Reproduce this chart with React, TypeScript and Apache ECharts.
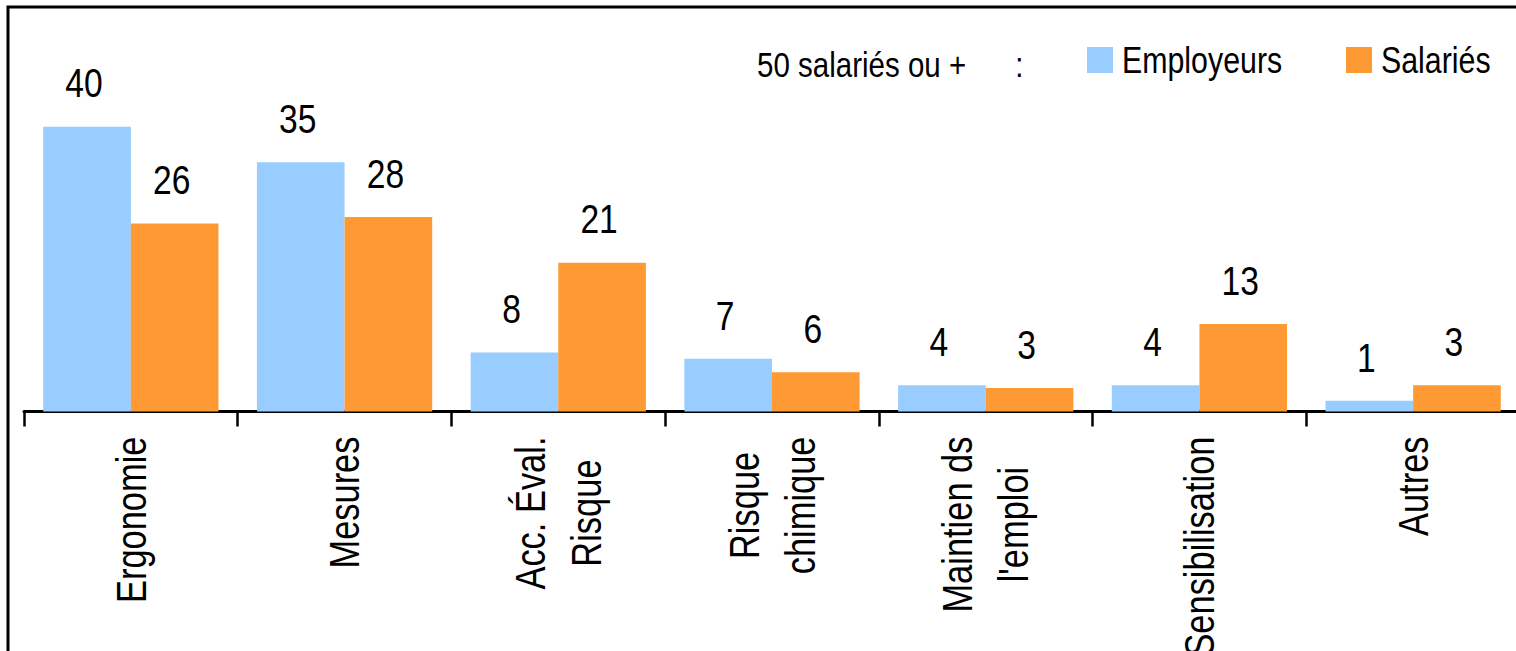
import React, { useEffect, useRef } from "react";
import * as echarts from "echarts";

const categories = [
  "Ergonomie",
  "Mesures",
  "Acc. Éval.\nRisque",
  "Risque\nchimique",
  "Maintien ds\nl'emploi",
  "Sensibilisation",
  "Autres",
];
const seriesNames = ["Employeurs", "Salariés"];
const employeursValues = [40.0, 35.0, 8.3, 7.4, 3.7, 3.7, 1.5];
const salariesValues = [26.4, 27.3, 20.9, 5.5, 3.3, 12.3, 3.7];
const employeursLabels = ["40", "35", "8", "7", "4", "4", "1"];
const salariesLabels = ["26", "28", "21", "6", "3", "13", "3"];
const legendPrefix = "50 salariés ou +      :";

const FONT = '"Liberation Sans", Arial, sans-serif';
const NARROW = 0.82; // horizontal condensation to imitate a narrow face

export default function App() {
  const ref = useRef<HTMLDivElement>(null);
  useEffect(() => {
    if (!ref.current) return;
    const chart = echarts.init(ref.current, undefined, { renderer: "svg" });
    const labelStyle = (labels: string[]) => ({
      show: true,
      position: "top",
      distance: 23,
      offset: [-3, 0],
      color: "#000",
      fontSize: 41,
      fontFamily: FONT,
      formatter: (p: any) => labels[p.dataIndex],
    });
    const legendItem = (name: string, left: number) => ({
      data: [name],
      left,
      top: 36.5,
      itemWidth: 26,
      itemHeight: 26,
      icon: "rect",
      textStyle: { fontSize: 37, fontFamily: FONT, color: "#000", padding: [0, 0, 0, 4] },
    });
    chart.setOption({
      animation: false,
      backgroundColor: "#fff",
      grid: {
        left: 24,
        right: 20,
        top: 55.5,
        bottom: 239.5,
        containLabel: false,
        outerBoundsMode: "none",
      },
      legend: [legendItem(seriesNames[0], 1082), legendItem(seriesNames[1], 1341)],
      xAxis: {
        type: "category",
        data: categories,
        boundaryGap: true,
        axisLine: { show: true, lineStyle: { color: "#000", width: 3 } },
        axisTick: { show: true, length: 15, lineStyle: { color: "#000", width: 2.5 } },
        axisLabel: {
          interval: 0,
          rotate: 90,
          margin: 25,
          hideOverlap: false,
          formatter: (v: string) => v.split("\n").map((l) => `{c|${l}}`).join("\n"),
          rich: {
            c: { align: "center", fontSize: 42, lineHeight: 56, fontFamily: FONT, color: "#000" },
          },
        },
      },
      yAxis: { type: "value", min: 0, max: 50, show: false, splitLine: { show: false } },
      graphic: [
        {
          type: "rect",
          shape: { x: 8, y: 7, width: 1700, height: 900 },
          style: { fill: "none", stroke: "#000", lineWidth: 3 },
          silent: true,
        },
        {
          type: "text",
          x: 757,
          y: 64,
          style: {
            text: legendPrefix,
            fontSize: 36,
            fontFamily: FONT,
            fill: "#000",
            verticalAlign: "middle",
            align: "left",
          },
        },
      ],
      series: [
        {
          name: seriesNames[0],
          type: "bar",
          data: employeursValues,
          barGap: "0%",
          barCategoryGap: "18%",
          itemStyle: { color: "#99CCFF" },
          label: labelStyle(employeursLabels),
        },
        {
          name: seriesNames[1],
          type: "bar",
          data: salariesValues,
          barGap: "0%",
          barCategoryGap: "18%",
          itemStyle: { color: "#FF9933" },
          label: labelStyle(salariesLabels),
        },
      ],
    });
    // condense text glyphs along their own writing direction
    const svg = ref.current.querySelector("svg");
    if (svg) {
      svg.querySelectorAll("text").forEach((t) => {
        const tf = t.getAttribute("transform") || "";
        const txt = (t.textContent || "").trim();
        if (seriesNames.includes(txt)) {
          const x = parseFloat(t.getAttribute("x") || "0") || 0;
          const y = parseFloat(t.getAttribute("y") || "0") || 0;
          t.setAttribute(
            "transform",
            `${tf} translate(${x} ${y}) scale(${NARROW} 1) translate(${-x} ${-y})`.trim()
          );
        } else {
          t.setAttribute("transform", `${tf} scale(${NARROW} 1)`.trim());
        }
      });
    }
    return () => chart.dispose();
  }, []);
  return (
    <div style={{ position: "fixed", left: 0, top: 0, width: 1516, height: 651, overflow: "hidden", background: "#fff" }}>
      <div ref={ref} style={{ position: "absolute", left: 0, top: 0, width: 1540, height: 651 }} />
    </div>
  );
}
